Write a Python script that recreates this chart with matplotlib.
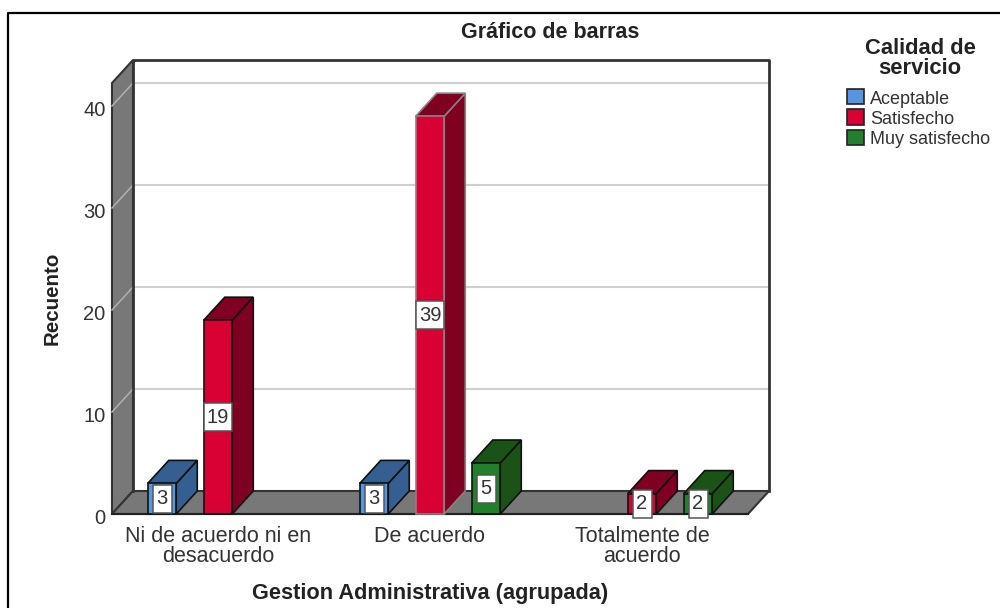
import matplotlib
matplotlib.use("Agg")
import matplotlib.pyplot as plt
from matplotlib.patches import Polygon, Rectangle
from matplotlib.transforms import ScaledTranslation

categories = ["Ni de acuerdo ni en\ndesacuerdo", "De acuerdo", "Totalmente de\nacuerdo"]
series = ["Aceptable", "Satisfecho", "Muy satisfecho"]
aceptable = [3, 3, 0]
satisfecho = [19, 39, 2]
muy_satisfecho = [0, 5, 2]
values = [aceptable, satisfecho, muy_satisfecho]
front = ["#5595E2", "#D90033", "#22802C"]
top = ["#365F91", "#7F0020", "#1A5218"]
yticks = [0, 10, 20, 30, 40]

W, H = 1000, 608
plt.rcParams['font.family'] = ['Liberation Sans', 'DejaVu Sans']
fig = plt.figure(figsize=(W / 100, H / 100), dpi=100)
ax = fig.add_axes([112 / W, 1 - 514 / H, (769 - 112) / W, (514 - 60) / H])
pxx = 212 / 1.0
pxy = 10.2
dx = 21 / pxx
dy = 23 / pxy
ax.set_xlim(0, 657 / pxx)
ax.set_ylim(0, 454 / pxy)
for s in ax.spines.values():
    s.set_visible(False)
ymax = 431 / pxy
xmax = 3.0
ax.add_patch(Polygon([(0, 0), (dx, dy), (dx, ymax + dy), (0, ymax)], fc="#787878", ec="#333333", lw=1.5, zorder=1, clip_on=False))
ax.add_patch(Polygon([(0, 0), (xmax, 0), (xmax + dx, dy), (dx, dy)], fc="#787878", ec="#333333", lw=1.5, zorder=1, clip_on=False))
for t in yticks[1:]:
    ax.plot([dx, xmax + dx], [t + dy, t + dy], color="#CFCFCF", lw=1.5, zorder=1.5, clip_on=False)
    ax.plot([0, dx], [t, t + dy], color="#B0B0B0", lw=1.1, zorder=1.5, clip_on=False)
ax.plot([dx, dx, xmax + dx, xmax + dx], [dy, ymax + dy, ymax + dy, dy], color="#333333", lw=2, zorder=2, clip_on=False)
ax.plot([0, xmax], [0, 0], color="#222222", lw=1.5, zorder=2, clip_on=False)

offset = 56 / pxx
bw = 28.5 / pxx
for i, cat in enumerate(categories):
    c = i + 0.5
    for j in range(3):
        v = values[j][i]
        if v == 0:
            continue
        x0 = c + (j - 1) * offset - bw / 2
        x1 = x0 + bw
        z = 5 + i + j * 0.1
        edge = "#8A7F82" if v == max(satisfecho) else "#111111"
        ax.add_patch(Polygon([(x1, 0), (x1 + dx, dy), (x1 + dx, v + dy), (x1, v)], fc=top[j], ec=edge, lw=1.2, zorder=z, clip_on=False))
        ax.add_patch(Polygon([(x0, v), (x1, v), (x1 + dx, v + dy), (x0 + dx, v + dy)], fc=top[j], ec=edge, lw=1.2, zorder=z, clip_on=False))
        ax.add_patch(Rectangle((x0, 0), bw, v, fc=front[j], ec=edge, lw=1.2, zorder=z + 0.01, clip_on=False))
        bx = 19 / pxx if v < 10 else bw
        by = 28 / pxy
        cx = (x0 + x1) / 2
        ax.add_patch(Rectangle((cx - bx / 2, v / 2 - by / 2), bx, by, fc="white", ec="#555555", lw=1.1, zorder=z + 0.02, clip_on=False))
        ax.text(cx, v / 2, str(v), ha="center", va="center", fontsize=14.5, color="#333333", zorder=z + 0.03)

ax.set_xticks([0.5, 1.5, 2.5], categories)
ax.set_yticks(yticks)
ax.tick_params(length=0)
ax.tick_params(axis="x", labelsize=15.5, labelcolor="#333333", pad=9)
ax.tick_params(axis="y", labelsize=14.5, labelcolor="#333333", pad=4.5)
for lab in ax.get_xticklabels():
    lab.set_linespacing(0.88)
shift = ScaledTranslation(0, -2.5 / 100, fig.dpi_scale_trans)
for lab in ax.get_yticklabels():
    lab.set_transform(lab.get_transform() + shift)

fig.text(550 / W, 1 - 33 / H, "Gráfico de barras", ha="center", va="center", fontsize=15.5, fontweight="bold", color="#222222")
fig.text(430 / W, 1 - 594 / H, "Gestion Administrativa (agrupada)", ha="center", va="center", fontsize=15.7, fontweight="bold", color="#222222")
fig.text(52 / W, 1 - 298 / H, "Recuento", ha="center", va="center", rotation=90, fontsize=14.8, fontweight="bold", color="#222222")
fig.text(920 / W, 1 - 58.5 / H, "Calidad de\nservicio", ha="center", va="center", fontsize=15.8, fontweight="bold", color="#222222", linespacing=0.95)

for j, name in enumerate(series):
    y = 97 + j * 20.5
    fig.add_artist(Rectangle((847 / W, 1 - (y + 7) / H), 17 / W, 15 / H, transform=fig.transFigure, fc=front[j], ec="#222222", lw=1.2))
    fig.text(870 / W, 1 - (y + 2) / H, name, ha="left", va="center", fontsize=13, color="#333333")

fig.add_artist(plt.Line2D([8 / W, 8 / W, 1], [0, 1 - 13 / H, 1 - 13 / H], transform=fig.transFigure, color="black", lw=1.6))
fig.savefig("out.png", dpi=100)
